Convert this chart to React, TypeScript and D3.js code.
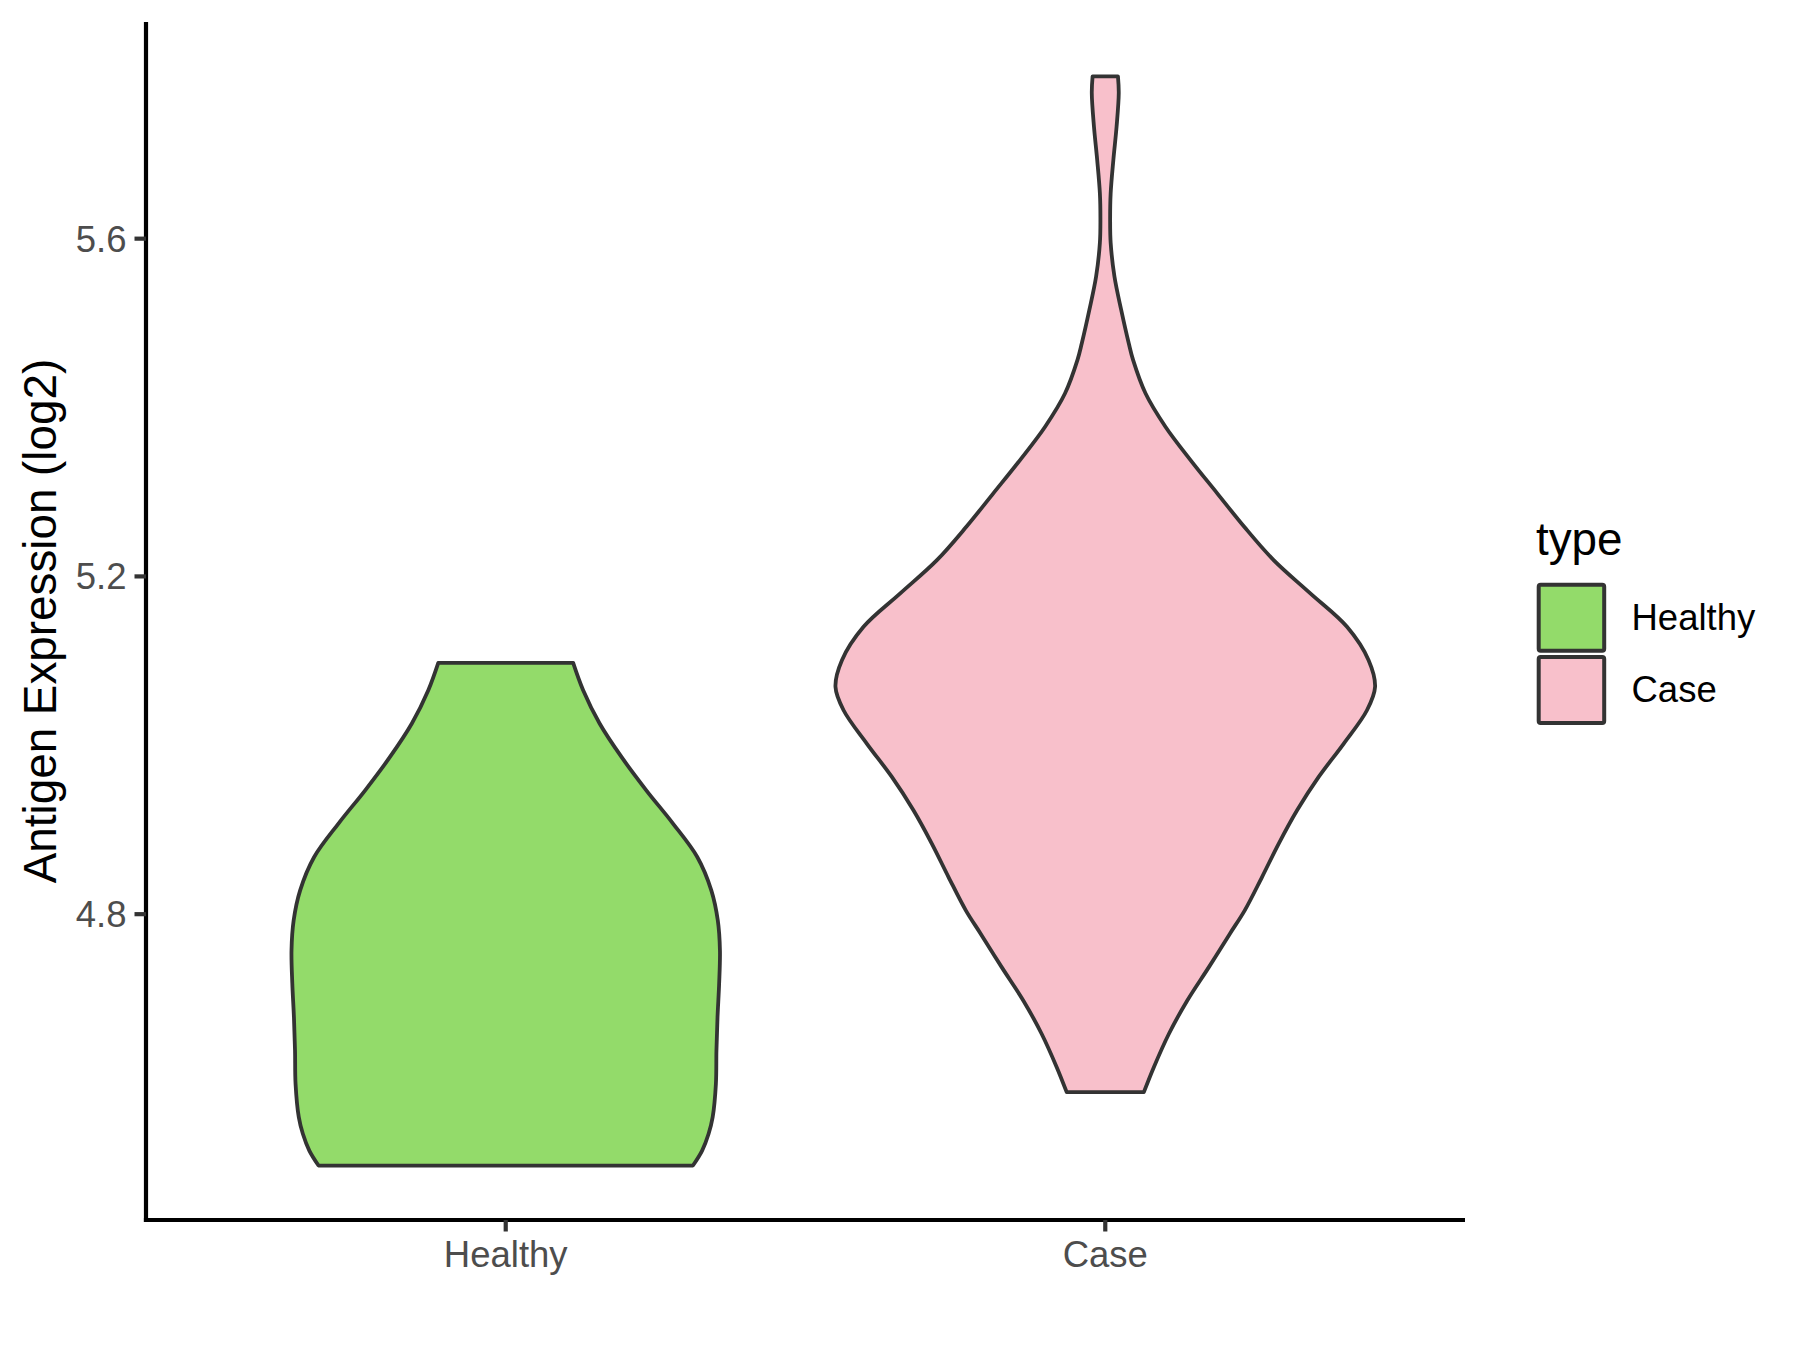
import React from 'react';
import * as d3 from 'd3';

const categories = ['Healthy', 'Case'];
const fills = ['#93DB6A', '#F8C0CB'];

// Healthy violin: values (log2) and relative half widths
const healthyY = [5.0976, 5.0652, 5.0258, 4.9862, 4.9467, 4.9073, 4.8677, 4.8282, 4.7927, 4.7571, 4.7176, 4.6781, 4.6386, 4.5991, 4.5596, 4.5399, 4.52, 4.5023];
const healthyW = [0.25, 0.287, 0.348, 0.429, 0.521, 0.62, 0.71, 0.762, 0.786, 0.794, 0.791, 0.785, 0.781, 0.779, 0.767, 0.752, 0.728, 0.694];

// Case violin
const caseY = [5.7921, 5.7724, 5.7329, 5.6934, 5.6539, 5.6223, 5.595, 5.5551, 5.5156, 5.4761, 5.4564, 5.4169, 5.3773, 5.3378, 5.2984, 5.2588, 5.2193, 5.1799, 5.1403, 5.1008, 5.0692, 5.0415, 5.0021, 4.9625, 4.923, 4.8836, 4.844, 4.8045, 4.7769, 4.7373, 4.6978, 4.6584, 4.6188, 4.5892];
const caseW = [0.047, 0.05, 0.042, 0.03, 0.02, 0.018, 0.02, 0.034, 0.059, 0.087, 0.103, 0.149, 0.223, 0.316, 0.415, 0.515, 0.624, 0.76, 0.896, 0.976, 1.0, 0.97, 0.884, 0.791, 0.711, 0.643, 0.581, 0.517, 0.462, 0.384, 0.304, 0.236, 0.18, 0.143];

const yTicks = [4.8, 5.2, 5.6];

const FONT = '"Liberation Sans", Arial, Helvetica, sans-serif';

export default function App() {
  const W = 1800;
  const H = 1350;
  const left = 146, right = 1465, top = 22, bottom = 1220;

  const x = d3.scaleLinear().domain([0.4, 2.6]).range([left, right]);
  const all = [...healthyY, ...caseY];
  const mn = d3.min(all) as number;
  const mx = d3.max(all) as number;
  const pad = (mx - mn) * 0.05;
  const y = d3.scaleLinear().domain([mn - pad, mx + pad]).range([bottom, top]);

  const step = x(2) - x(1);
  const maxHalf = step * 0.45;

  const series = [
    { ys: healthyY, ws: healthyW },
    { ys: caseY, ws: caseW },
  ];

  const paths = series.map((s, i) => {
    const cx = x(i + 1);
    const pts = s.ys.map((v, k) => ({ v, w: s.ws[k] }));
    const area = d3
      .area<{ v: number; w: number }>()
      .y((d) => y(d.v))
      .x0((d) => cx - d.w * maxHalf)
      .x1((d) => cx + d.w * maxHalf)
      .curve(d3.curveCatmullRom.alpha(0.5));
    return area(pts) as string;
  });

  const tickLen = 11.5;

  return (
    <svg
      width={W}
      height={H}
      style={{ position: 'absolute', left: 0, top: 0, background: '#fff' }}
      fontFamily={FONT}
    >
      <rect x={0} y={0} width={W} height={H} fill="#fff" />
      {paths.map((p, i) => (
        <path key={i} d={p} fill={fills[i]} stroke="#333333" strokeWidth={3.8} strokeLinejoin="round" />
      ))}

      {/* axes */}
      <line x1={left} x2={left} y1={top} y2={bottom + 2.1} stroke="#000" strokeWidth={4.2} />
      <line x1={left - 2.1} x2={right} y1={bottom} y2={bottom} stroke="#000" strokeWidth={4.2} />

      {yTicks.map((t) => (
        <g key={t}>
          <line x1={left - tickLen} x2={left} y1={y(t)} y2={y(t)} stroke="#333333" strokeWidth={4.2} />
          <text x={left - tickLen - 8} y={y(t) + 13} textAnchor="end" fontSize={36.5} fill="#4D4D4D">
            {t.toFixed(1)}
          </text>
        </g>
      ))}

      {categories.map((c, i) => (
        <g key={c}>
          <line x1={x(i + 1)} x2={x(i + 1)} y1={bottom} y2={bottom + tickLen} stroke="#333333" strokeWidth={4.2} />
          <text x={x(i + 1)} y={1267} textAnchor="middle" fontSize={36.5} fill="#4D4D4D">
            {c}
          </text>
        </g>
      ))}

      <text
        transform={`translate(55.5, ${(top + bottom) / 2}) rotate(-90)`}
        textAnchor="middle"
        fontSize={45.8}
        fill="#000"
      >
        Antigen Expression (log2)
      </text>

      {/* legend */}
      <text x={1536} y={555} fontSize={45.8} fill="#000">type</text>
      {categories.map((c, i) => (
        <g key={c}>
          <rect
            x={1538.7}
            y={584.7 + i * 72.3}
            width={65.5}
            height={66}
            rx={2}
            fill={fills[i]}
            stroke="#333333"
            strokeWidth={4}
          />
          <text x={1631.5} y={630 + i * 72} fontSize={36.5} fill="#000">
            {c}
          </text>
        </g>
      ))}
    </svg>
  );
}
